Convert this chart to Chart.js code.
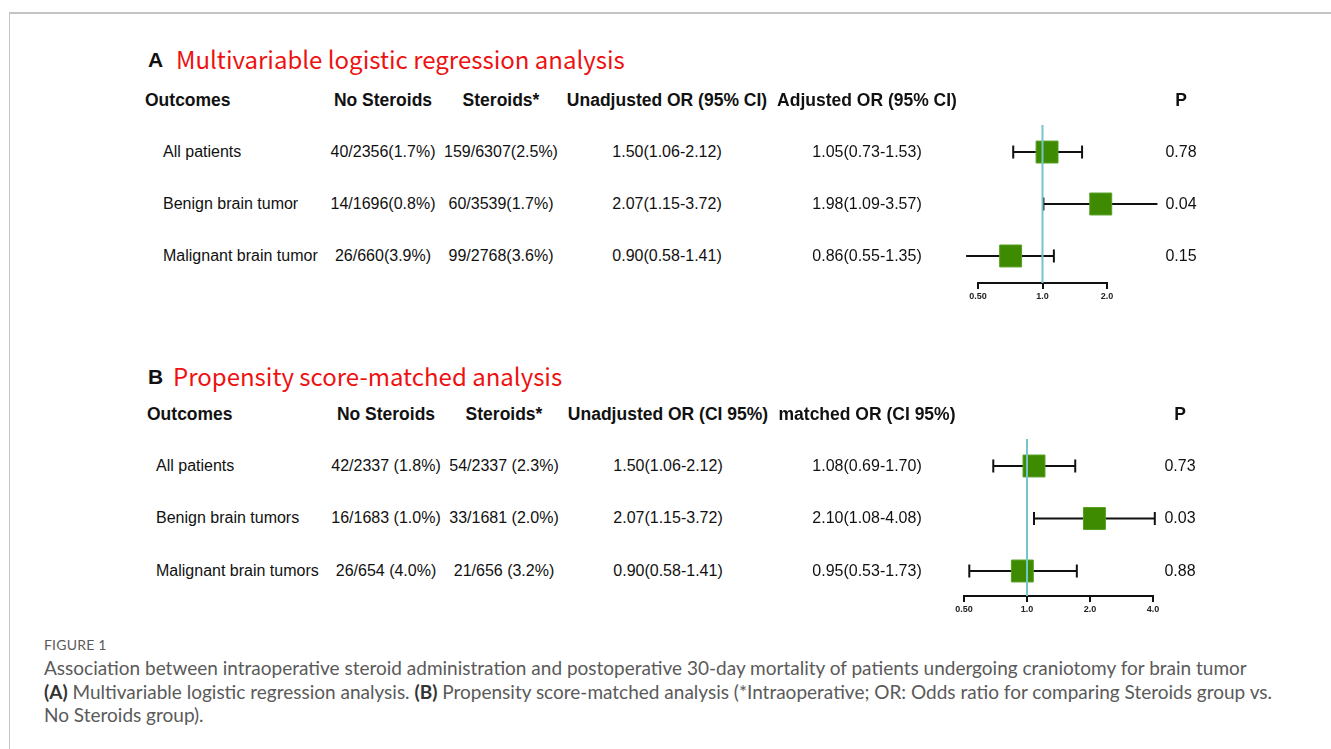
<!DOCTYPE html>
<html>
<head>
<meta charset="utf-8">
<script src="https://cdn.jsdelivr.net/npm/chart.js@4.4.0/dist/chart.umd.min.js"></script>
<style>
  body { margin: 0; background: #fff; width: 1331px; height: 749px; overflow: hidden; position: relative; }
  #frame { position: absolute; left: 9px; top: 12px; width: 1340px; height: 760px; border-top: 2px solid #c4c4c4; border-left: 1px solid #c4c4c4; }
  canvas { position: absolute; }
  .t { position: absolute; white-space: nowrap; font-family: "Liberation Sans", Arial, sans-serif; color: #111; line-height: 20px; height: 20px; }
  .hd { font-weight: bold; font-size: 17.5px; }
  .cell { font-size: 16px; }
  .ttl { font-family: "Noto Sans CJK SC", "Noto Sans", sans-serif; color: #ee1111; font-size: 24px; line-height: 30px; height: 30px; }
  .let { font-weight: bold; font-size: 21px; line-height: 30px; height: 30px; }
  .cap { position: absolute; left: 44px; white-space: nowrap; font-family: Lato, "Open Sans", sans-serif; color: #5a5a5a; }
  .cap b { color: #333; }
</style>
</head>
<body>
<div id="frame"></div>
<canvas id="forestA"></canvas>
<canvas id="forestB"></canvas>
<div id="texts"></div>
<div class="cap" style="top:636px; font-size:14px; letter-spacing:0.2px;">FIGURE 1</div>
<div class="cap" style="top:656px; font-size:19px; line-height:23.5px;">
Association between intraoperative steroid administration and postoperative 30-day mortality of patients undergoing craniotomy for brain tumor<br>
<b>(A)</b> Multivariable logistic regression analysis. <b>(B)</b> Propensity score-matched analysis (*Intraoperative; OR: Odds ratio for comparing Steroids group vs.<br>
No Steroids group).
</div>
<script>
// Panel A: multivariable logistic regression
const outcomesA = ["All patients", "Benign brain tumor", "Malignant brain tumor"];
const noSteroidsA = ["40/2356(1.7%)", "14/1696(0.8%)", "26/660(3.9%)"];
const steroidsA = ["159/6307(2.5%)", "60/3539(1.7%)", "99/2768(3.6%)"];
const unadjustedA = ["1.50(1.06-2.12)", "2.07(1.15-3.72)", "0.90(0.58-1.41)"];
const adjustedA = ["1.05(0.73-1.53)", "1.98(1.09-3.57)", "0.86(0.55-1.35)"];
const pA = ["0.78", "0.04", "0.15"];
// points as drawn in the forest plot
const orA = [1.05, 1.87, 0.71];
const lowA = [0.73, 1.01, 0.44];
const highA = [1.53, 3.44, 1.13];
const ticksA = [0.5, 1, 2];
const tickLabelsA = ["0.50", "1.0", "2.0"];

// Panel B: propensity score-matched
const outcomesB = ["All patients", "Benign brain tumors", "Malignant brain tumors"];
const noSteroidsB = ["42/2337 (1.8%)", "16/1683 (1.0%)", "26/654 (4.0%)"];
const steroidsB = ["54/2337 (2.3%)", "33/1681 (2.0%)", "21/656 (3.2%)"];
const unadjustedB = ["1.50(1.06-2.12)", "2.07(1.15-3.72)", "0.90(0.58-1.41)"];
const matchedB = ["1.08(0.69-1.70)", "2.10(1.08-4.08)", "0.95(0.53-1.73)"];
const pB = ["0.73", "0.03", "0.88"];
const orB = [1.08, 2.10, 0.95];
const lowB = [0.69, 1.08, 0.53];
const highB = [1.70, 4.08, 1.73];
const ticksB = [0.5, 1, 2, 4];
const tickLabelsB = ["0.50", "1.0", "2.0", "4.0"];

let texts = document.getElementById("texts");

// Add a text label centred vertically on y
function addText(txt, x, y, cls, align) {
    let d = document.createElement("div");
    d.className = "t " + cls;
    d.textContent = txt;
    let h = (cls.indexOf("ttl") >= 0 || cls.indexOf("let") >= 0) ? 30 : 20;
    d.style.top = (y - h / 2) + "px";
    d.style.left = x + "px";
    if (align === "center") d.style.transform = "translateX(-50%)";
    texts.appendChild(d);
}

// Draw one table
function drawTable(p) {
    addText(p.letter, 148, p.titleY, "let");
    addText(p.title, p.titleX, p.titleY - 1, "ttl");
    addText("Outcomes", p.outX, p.headY, "hd");
    p.heads.forEach((h, i) => addText(h, p.cols[i], p.headY, "hd", "center"));
    p.rowsY.forEach((y, r) => {
        addText(p.outcomes[r], p.rowX, y, "cell");
        p.columns.forEach((col, i) => addText(col[r], p.cols[i], y, "cell", "center"));
    });
}

drawTable({
    letter: "A", title: "Multivariable logistic regression analysis", titleX: 176, titleY: 60,
    outX: 145, headY: 100, rowX: 163, rowsY: [152, 204, 256],
    heads: ["No Steroids", "Steroids*", "Unadjusted OR (95% CI)", "Adjusted OR (95% CI)", "P"],
    cols: [383, 501, 667, 867, 1181],
    outcomes: outcomesA,
    columns: [noSteroidsA, steroidsA, unadjustedA, adjustedA, pA]
});

drawTable({
    letter: "B", title: "Propensity score-matched analysis", titleX: 173, titleY: 377,
    outX: 147, headY: 414, rowX: 156, rowsY: [466, 518, 571],
    heads: ["No Steroids", "Steroids*", "Unadjusted OR (CI 95%)", "matched OR (CI 95%)", "P"],
    cols: [386, 504, 668, 867, 1180],
    outcomes: outcomesB,
    columns: [noSteroidsB, steroidsB, unadjustedB, matchedB, pB]
});

// Forest plot
function makeForest(id, left, top, width, height, or, low, high, ticks, tickLabels, yMin, yMax) {
    let canvas = document.getElementById(id);
    canvas.style.left = left + "px";
    canvas.style.top = top + "px";
    canvas.width = width;
    canvas.height = height;

    let datasets = [];
    // reference line at OR = 1
    datasets.push({
        data: [{ x: 1, y: yMin }, { x: 1, y: yMax }],
        showLine: true, borderColor: "#72c6cc", borderWidth: 2, pointRadius: 0, clip: false
    });
    // squares
    datasets.push({
        data: or.map((v, i) => ({ x: v, y: i + 1 })),
        pointStyle: "rect", pointRadius: 15.5, backgroundColor: "#3e8a00",
        borderColor: "#55a020", borderWidth: 1, clip: false
    });
    // whiskers
    or.forEach((v, i) => {
        datasets.push({
            data: [{ x: low[i], y: i + 1 }, { x: high[i], y: i + 1 }],
            showLine: true, borderColor: "#111", borderWidth: 2,
            pointStyle: "line", pointRotation: 90, pointRadius: 6.5,
            pointBorderColor: "#111", pointBorderWidth: 2, clip: false
        });
    });

    return new Chart(canvas, {
        type: "scatter",
        data: { datasets: datasets },
        options: {
            responsive: false, animation: false, events: [], devicePixelRatio: 1,
            layout: { padding: { left: 70, right: 70, top: 20, bottom: 0 } },
            plugins: { legend: { display: false }, tooltip: { enabled: false } },
            scales: {
                x: {
                    type: "logarithmic", min: ticks[0], max: ticks[ticks.length - 1],
                    afterBuildTicks: s => { s.ticks = ticks.map(v => ({ value: v })); },
                    afterFit: s => { s.height = 26; },
                    grid: { drawOnChartArea: false, drawTicks: true, tickLength: 6, color: "#111", lineWidth: 2 },
                    border: { display: true, color: "#111", width: 2 },
                    ticks: {
                        autoSkip: false, maxRotation: 0, padding: 2, color: "#222",
                        font: { family: "Liberation Sans", size: 9, weight: "bold" },
                        callback: (v, i) => tickLabels[i]
                    }
                },
                y: { type: "linear", display: false, reverse: true, min: yMin, max: yMax }
            }
        }
    });
}

makeForest("forestA", 908, 105, 269, 204, orA, lowA, highA, ticksA, tickLabelsA, 0.48, 3.52);
makeForest("forestB", 894, 419, 329, 203, orB, lowB, highB, ticksB, tickLabelsB, 0.486, 3.476);
</script>
</body>
</html>
